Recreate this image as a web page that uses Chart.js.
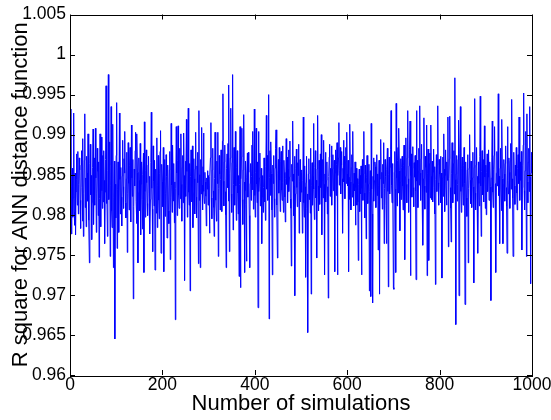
<!DOCTYPE html>
<html>
<head>
<meta charset="utf-8">
<script src="https://cdn.jsdelivr.net/npm/chart.js@4"></script>
<style>
  html, body { margin: 0; padding: 0; background: #fff; }
  #wrap { width: 551px; height: 420px; position: relative; }
</style>
</head>
<body>
<div id="wrap"><canvas id="r2Chart"></canvas></div>
<script>
// R square of the ANN distance function, one value per simulation
var r2Part1 = [
  0.9781, 0.9932, 0.9776, 0.9835, 0.9858, 0.9797, 0.9821, 0.9927, 0.9803, 0.9787,
  0.9852, 0.9775, 0.9829, 0.9876, 0.9844, 0.9812, 0.9879, 0.9801, 0.9838, 0.9871,
  0.9856, 0.9818, 0.9783, 0.9862, 0.9880, 0.9834, 0.9792, 0.9895, 0.9773, 0.9827,
  0.9868, 0.9926, 0.9809, 0.9846, 0.9785, 0.9873, 0.9852, 0.9817, 0.9901, 0.9822,
  0.9793, 0.9740, 0.9864, 0.9888, 0.9825, 0.9849, 0.9769, 0.9815, 0.9859, 0.9907,
  0.9788, 0.9834, 0.9871, 0.9812, 0.9908, 0.9846, 0.9778, 0.9826, 0.9883, 0.9854,
  0.9799, 0.9866, 0.9747, 0.9820, 0.9901, 0.9841, 0.9785, 0.9897, 0.9830, 0.9808,
  0.9874, 0.9816, 0.9880, 0.9843, 0.9764, 0.9828, 0.9869, 0.9961, 0.9814, 0.9840,
  0.9773, 0.9855, 0.9975, 0.9819, 0.9862, 0.9891, 0.9748, 0.9836, 0.9935, 0.9805,
  0.9784, 0.9850, 0.9913, 0.9734, 0.9822, 0.9867, 0.9645, 0.9838, 0.9796, 0.9874,
  0.9940, 0.9758, 0.9831, 0.9866, 0.9812, 0.9778, 0.9927, 0.9844, 0.9801, 0.9859,
  0.9822, 0.9786, 0.9848, 0.9893, 0.9835, 0.9808, 0.9870, 0.9852, 0.9904, 0.9815,
  0.9796, 0.9845, 0.9878, 0.9753, 0.9827, 0.9890, 0.9839, 0.9806, 0.9862, 0.9884,
  0.9818, 0.9791, 0.9912, 0.9846, 0.9823, 0.9869, 0.9695, 0.9810, 0.9857, 0.9836,
  0.9880, 0.9903, 0.9817, 0.9789, 0.9901, 0.9853, 0.9740, 0.9828, 0.9871, 0.9843,
  0.9805, 0.9889, 0.9775, 0.9838, 0.9866, 0.9819, 0.9782, 0.9850, 0.9877, 0.9728,
  0.9916, 0.9829, 0.9797, 0.9855, 0.9881, 0.9840, 0.9814, 0.9799, 0.9862, 0.9873,
  0.9826, 0.9848, 0.9776, 0.9819, 0.9865, 0.9928, 0.9833, 0.9807, 0.9754, 0.9886,
  0.9842, 0.9811, 0.9868, 0.9731, 0.9825, 0.9857, 0.9802, 0.9896, 0.9784, 0.9837,
  0.9874, 0.9818, 0.9795, 0.9851, 0.9879, 0.9905, 0.9752, 0.9829, 0.9863, 0.9841
];
var r2Part2 = [
  0.9810, 0.9884, 0.9729, 0.9843, 0.9869, 0.9798, 0.9826, 0.9875, 0.9848, 0.9771,
  0.9835, 0.9862, 0.9805, 0.9789, 0.9856, 0.9879, 0.9744, 0.9821, 0.9914, 0.9837,
  0.9803, 0.9887, 0.9846, 0.9817, 0.9864, 0.9790, 0.9841, 0.9669, 0.9833, 0.9910,
  0.9852, 0.9799, 0.9868, 0.9911, 0.9824, 0.9808, 0.9861, 0.9883, 0.9820, 0.9901,
  0.9838, 0.9792, 0.9859, 0.9874, 0.9815, 0.9902, 0.9849, 0.9718, 0.9836, 0.9867,
  0.9823, 0.9919, 0.9854, 0.9797, 0.9872, 0.9933, 0.9828, 0.9812, 0.9864, 0.9705,
  0.9848, 0.9881, 0.9816, 0.9839, 0.9886, 0.9784, 0.9827, 0.9870, 0.9845, 0.9801,
  0.9857, 0.9903, 0.9822, 0.9796, 0.9861, 0.9840, 0.9878, 0.9739, 0.9930, 0.9818,
  0.9850, 0.9734, 0.9869, 0.9826, 0.9909, 0.9837, 0.9806, 0.9860, 0.9902, 0.9829,
  0.9814, 0.9853, 0.9841, 0.9823, 0.9786, 0.9846, 0.9832, 0.9855, 0.9812, 0.9849,
  0.9836, 0.9777, 0.9848, 0.9871, 0.9915, 0.9821, 0.9795, 0.9856, 0.9883, 0.9830,
  0.9809, 0.9773, 0.9845, 0.9903, 0.9860, 0.9818, 0.9792, 0.9867, 0.9839, 0.9903,
  0.9748, 0.9833, 0.9874, 0.9851, 0.9806, 0.9844, 0.9881, 0.9825, 0.9804, 0.9892,
  0.9951, 0.9842, 0.9811, 0.9866, 0.9887, 0.9829, 0.9800, 0.9734, 0.9858, 0.9876,
  0.9834, 0.9889, 0.9817, 0.9962, 0.9754, 0.9852, 0.9871, 0.9933, 0.9826, 0.9803,
  0.9865, 0.9975, 0.9781, 0.9838, 0.9884, 0.9847, 0.9812, 0.9904, 0.9836, 0.9793,
  0.9859, 0.9880, 0.9827, 0.9801, 0.9849, 0.9723, 0.9838, 0.9910, 0.9709, 0.9845,
  0.9872, 0.9908, 0.9819, 0.9788, 0.9856, 0.9925, 0.9841, 0.9728, 0.9830, 0.9867,
  0.9813, 0.9742, 0.9846, 0.9877, 0.9822, 0.9878, 0.9853, 0.9799, 0.9734, 0.9839,
  0.9864, 0.9818, 0.9848, 0.9887, 0.9831, 0.9904, 0.9807, 0.9852, 0.9932, 0.9824
];
var r2Part3 = [
  0.9797, 0.9853, 0.9908, 0.9838, 0.9815, 0.9866, 0.9684, 0.9904, 0.9829, 0.9846,
  0.9877, 0.9811, 0.9835, 0.9858, 0.9764, 0.9822, 0.9849, 0.9803, 0.9834, 0.9871,
  0.9816, 0.9845, 0.9793, 0.9860, 0.9924, 0.9832, 0.9874, 0.9818, 0.9855, 0.9950,
  0.9670, 0.9847, 0.9880, 0.9824, 0.9891, 0.9851, 0.9806, 0.9725, 0.9862, 0.9839,
  0.9874, 0.9820, 0.9797, 0.9858, 0.9883, 0.9906, 0.9835, 0.9812, 0.9746, 0.9852,
  0.9869, 0.9827, 0.9884, 0.9843, 0.9804, 0.9866, 0.9879, 0.9831, 0.9818, 0.9886,
  0.9840, 0.9803, 0.9868, 0.9853, 0.9822, 0.9791, 0.9845, 0.9895, 0.9838, 0.9872,
  0.9815, 0.9857, 0.9881, 0.9829, 0.9847, 0.9892, 0.9820, 0.9808, 0.9736, 0.9863,
  0.9842, 0.9917, 0.9851, 0.9799, 0.9836, 0.9873, 0.9699, 0.9826, 0.9858, 0.9882,
  0.9834, 0.9810, 0.9865, 0.9849, 0.9888, 0.9777, 0.9841, 0.9869, 0.9816, 0.9852,
  0.9828, 0.9856, 0.9777, 0.9843, 0.9922, 0.9815, 0.9797, 0.9861, 0.9835, 0.9722,
  0.9840, 0.9873, 0.9808, 0.9826, 0.9653, 0.9851, 0.9870, 0.9819, 0.9844, 0.9802,
  0.9883, 0.9701, 0.9837, 0.9865, 0.9812, 0.9848, 0.9914, 0.9832, 0.9794, 0.9859,
  0.9880, 0.9821, 0.9843, 0.9746, 0.9857, 0.9924, 0.9836, 0.9805, 0.9868, 0.9847,
  0.9813, 0.9876, 0.9834, 0.9900, 0.9775, 0.9842, 0.9869, 0.9821, 0.9893, 0.9838,
  0.9725, 0.9851, 0.9878, 0.9816, 0.9843, 0.9866, 0.9801, 0.9835, 0.9696, 0.9848,
  0.9872, 0.9888, 0.9823, 0.9858, 0.9839, 0.9886, 0.9812, 0.9857, 0.9875, 0.9830,
  0.9846, 0.9868, 0.9729, 0.9852, 0.9881, 0.9824, 0.9863, 0.9890, 0.9725, 0.9849,
  0.9871, 0.9915, 0.9837, 0.9855, 0.9884, 0.9826, 0.9862, 0.9879, 0.9845, 0.9777,
  0.9858, 0.9893, 0.9841, 0.9873, 0.9820, 0.9866, 0.9884, 0.9839, 0.9903, 0.9851
];
var r2Part4 = [
  0.9836, 0.9868, 0.9729, 0.9847, 0.9819, 0.9913, 0.9841, 0.9806, 0.9859, 0.9875,
  0.9822, 0.9904, 0.9839, 0.9811, 0.9852, 0.9830, 0.9866, 0.9787, 0.9834, 0.9858,
  0.9812, 0.9845, 0.9816, 0.9743, 0.9838, 0.9857, 0.9804, 0.9849, 0.9826, 0.9861,
  0.9725, 0.9833, 0.9869, 0.9818, 0.9851, 0.9904, 0.9827, 0.9796, 0.9862, 0.9840,
  0.9770, 0.9846, 0.9874, 0.9857, 0.9814, 0.9838, 0.9863, 0.9705, 0.9829, 0.9855,
  0.9698, 0.9914, 0.9832, 0.9801, 0.9690, 0.9848, 0.9871, 0.9817, 0.9843, 0.9866,
  0.9860, 0.9809, 0.9842, 0.9875, 0.9824, 0.9851, 0.9756, 0.9836, 0.9868, 0.9701,
  0.9845, 0.9878, 0.9894, 0.9821, 0.9853, 0.9807, 0.9863, 0.9839, 0.9890, 0.9764,
  0.9833, 0.9869, 0.9848, 0.9812, 0.9764, 0.9856, 0.9883, 0.9829, 0.9710, 0.9850,
  0.9872, 0.9826, 0.9859, 0.9881, 0.9930, 0.9837, 0.9815, 0.9864, 0.9846, 0.9709,
  0.9707, 0.9853, 0.9879, 0.9832, 0.9728, 0.9939, 0.9846, 0.9811, 0.9868, 0.9884,
  0.9827, 0.9908, 0.9855, 0.9780, 0.9841, 0.9870, 0.9819, 0.9859, 0.9873, 0.9836,
  0.9806, 0.9862, 0.9887, 0.9830, 0.9744, 0.9848, 0.9896, 0.9838, 0.9815, 0.9871,
  0.9930, 0.9845, 0.9803, 0.9861, 0.9882, 0.9917, 0.9724, 0.9849, 0.9876, 0.9822,
  0.9858, 0.9885, 0.9834, 0.9810, 0.9865, 0.9847, 0.9874, 0.9829, 0.9719, 0.9930,
  0.9842, 0.9868, 0.9809, 0.9855, 0.9883, 0.9837, 0.9936, 0.9852, 0.9818, 0.9870,
  0.9888, 0.9831, 0.9856, 0.9762, 0.9845, 0.9921, 0.9836, 0.9807, 0.9873, 0.9859,
  0.9828, 0.9912, 0.9724, 0.9851, 0.9882, 0.9839, 0.9743, 0.9864, 0.9877, 0.9821,
  0.9912, 0.9848, 0.9819, 0.9867, 0.9816, 0.9853, 0.9882, 0.9834, 0.9801, 0.9860,
  0.9713, 0.9844, 0.9875, 0.9829, 0.9862, 0.9936, 0.9840, 0.9812, 0.9869, 0.9851
];
var r2Part5 = [
  0.9838, 0.9873, 0.9815, 0.9852, 0.9721, 0.9846, 0.9872, 0.9823, 0.9901, 0.9857,
  0.9804, 0.9849, 0.9881, 0.9836, 0.9812, 0.9866, 0.9843, 0.9922, 0.9760, 0.9845,
  0.9870, 0.9923, 0.9834, 0.9808, 0.9766, 0.9852, 0.9890, 0.9839, 0.9815, 0.9864,
  0.9880, 0.9826, 0.9971, 0.9844, 0.9663, 0.9851, 0.9874, 0.9817, 0.9838, 0.9869,
  0.9918, 0.9699, 0.9842, 0.9877, 0.9935, 0.9829, 0.9803, 0.9858, 0.9872, 0.9835,
  0.9812, 0.9861, 0.9884, 0.9839, 0.9688, 0.9847, 0.9866, 0.9821, 0.9798, 0.9856,
  0.9875, 0.9740, 0.9833, 0.9858, 0.9900, 0.9843, 0.9814, 0.9867, 0.9851, 0.9809,
  0.9846, 0.9878, 0.9835, 0.9715, 0.9859, 0.9945, 0.9827, 0.9806, 0.9862, 0.9884,
  0.9831, 0.9848, 0.9752, 0.9866, 0.9839, 0.9811, 0.9873, 0.9948, 0.9836, 0.9773,
  0.9854, 0.9880, 0.9825, 0.9843, 0.9869, 0.9816, 0.9911, 0.9847, 0.9808, 0.9862,
  0.9800, 0.9853, 0.9876, 0.9829, 0.9847, 0.9881, 0.9818, 0.9842, 0.9866, 0.9835,
  0.9693, 0.9846, 0.9871, 0.9917, 0.9828, 0.9809, 0.9857, 0.9874, 0.9910, 0.9839,
  0.9815, 0.9728, 0.9852, 0.9879, 0.9836, 0.9861, 0.9951, 0.9824, 0.9848, 0.9764,
  0.9858, 0.9883, 0.9831, 0.9805, 0.9919, 0.9845, 0.9764, 0.9838, 0.9869, 0.9851,
  0.9817, 0.9864, 0.9886, 0.9834, 0.9811, 0.9752, 0.9910, 0.9843, 0.9826, 0.9871,
  0.9853, 0.9808, 0.9867, 0.9889, 0.9832, 0.9944, 0.9845, 0.9821, 0.9748, 0.9859,
  0.9878, 0.9836, 0.9813, 0.9862, 0.9849, 0.9884, 0.9827, 0.9806, 0.9858, 0.9875,
  0.9839, 0.9922, 0.9851, 0.9818, 0.9866, 0.9843, 0.9879, 0.9756, 0.9834, 0.9861,
  0.9887, 0.9952, 0.9830, 0.9806, 0.9855, 0.9872, 0.9904, 0.9748, 0.9926, 0.9841,
  0.9815, 0.9866, 0.9883, 0.9829, 0.9935, 0.9847, 0.9714, 0.9852, 0.9878, 0.9868
];

var xTickValues = [0, 200, 400, 600, 800, 1000];
var yTickValues = [0.96, 0.965, 0.97, 0.975, 0.98, 0.985, 0.99, 0.995, 1, 1.005];

var r2Values = r2Part1.concat(r2Part2, r2Part3, r2Part4, r2Part5);
// simulation number runs 1..1000
var points = r2Values.map(function (v, i) { return { x: i + 1, y: v }; });

var axisFont = 'Liberation Sans, Arial, Helvetica, sans-serif';

// MATLAB style box with inward tick marks on all four sides
var boxTicks = {
    id: 'boxTicks',
    afterDatasetsDraw: function (chart) {
        var ctx = chart.ctx, a = chart.chartArea;
        var xs = chart.scales.x, ys = chart.scales.y;
        var len = 5;
        ctx.save();
        ctx.strokeStyle = '#000';
        ctx.lineWidth = 1;
        ctx.beginPath();
        xs.ticks.forEach(function (t) {
            var px = Math.round(xs.getPixelForValue(t.value)) + 0.5;
            ctx.moveTo(px, a.bottom); ctx.lineTo(px, a.bottom - len);
            ctx.moveTo(px, a.top); ctx.lineTo(px, a.top + len);
        });
        ys.ticks.forEach(function (t) {
            var py = Math.round(ys.getPixelForValue(t.value)) + 0.5;
            ctx.moveTo(a.left, py); ctx.lineTo(a.left + len, py);
            ctx.moveTo(a.right, py); ctx.lineTo(a.right - len, py);
        });
        ctx.stroke();
        ctx.strokeRect(Math.round(a.left) + 0.5, Math.round(a.top) + 0.5,
            Math.round(a.right - a.left), Math.round(a.bottom - a.top));
        ctx.restore();
    }
};

var ctx = document.getElementById('r2Chart').getContext('2d');
var r2Chart = new Chart(ctx, {
    type: 'line',
    data: {
        datasets: [{
            data: points,
            borderColor: '#0000ff',
            borderWidth: 1,
            pointRadius: 0,
            tension: 0,
            fill: false
        }]
    },
    options: {
        responsive: true,
        maintainAspectRatio: false,
        animation: false,
        events: [],
        layout: { padding: { left: 0, right: 19, top: 10, bottom: 0 } },
        scales: {
            x: {
                type: 'linear',
                min: 0,
                max: 1000,
                grid: { display: false, drawTicks: false },
                border: { display: false },
                afterBuildTicks: function (scale) {
                    scale.ticks = xTickValues.map(function (v) { return { value: v }; });
                },
                afterFit: function (scale) {
                    scale.height = 45;
                    scale.paddingLeft = 0;
                    scale.paddingRight = 0;
                },
                ticks: {
                    color: '#000',
                    padding: 0,
                    maxRotation: 0,
                    font: { family: axisFont, size: 17.5 },
                    callback: function (v) { return String(v); }
                },
                title: {
                    display: true,
                    text: 'Number of simulations',
                    color: '#000',
                    font: { family: axisFont, size: 22 },
                    padding: { top: 0, bottom: 3 }
                }
            },
            y: {
                type: 'linear',
                min: 0.96,
                max: 1.005,
                grid: { display: false, drawTicks: false },
                border: { display: false },
                afterBuildTicks: function (scale) {
                    scale.ticks = yTickValues.map(function (v) { return { value: v }; });
                },
                afterFit: function (scale) {
                    scale.width = 70;
                },
                ticks: {
                    color: '#000',
                    padding: 4,
                    font: { family: axisFont, size: 17.5 },
                    callback: function (v) { return String(parseFloat(Number(v).toFixed(3))); }
                },
                title: {
                    display: true,
                    text: 'R square for ANN distance function',
                    color: '#000',
                    font: { family: axisFont, size: 22 },
                    padding: { top: 8, bottom: 0 }
                }
            }
        },
        plugins: {
            legend: { display: false },
            tooltip: { enabled: false }
        }
    },
    plugins: [boxTicks]
});
</script>
</body>
</html>
